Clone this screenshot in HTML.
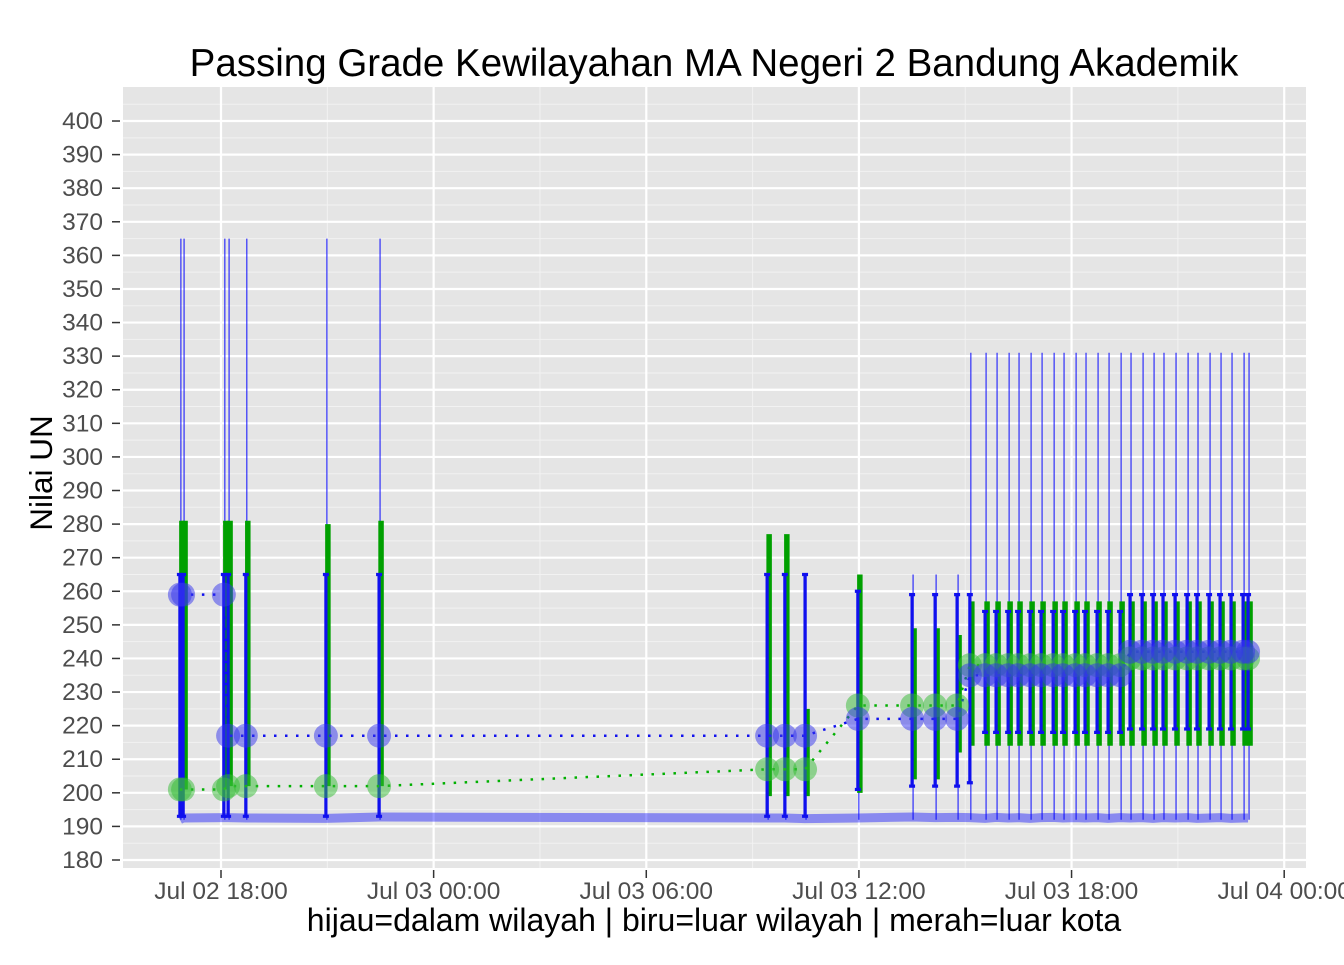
<!DOCTYPE html>
<html><head><meta charset="utf-8"><style>
body{margin:0;background:#fff}
svg text{font-family:"Liberation Sans",sans-serif}
</style></head><body>
<svg id="chart" width="1344" height="960" xmlns="http://www.w3.org/2000/svg">
<rect x="123" y="87" width="1183" height="781" fill="#e5e5e5"/>
<g id="grid"></g><g id="marks"></g><g id="axes"></g>
<text x="714" y="76" font-size="38.5" text-anchor="middle">Passing Grade Kewilayahan MA Negeri 2 Bandung Akademik</text>
<text x="714" y="931" font-size="32" text-anchor="middle">hijau=dalam wilayah | biru=luar wilayah | merah=luar kota</text>
<text transform="translate(52,473) rotate(-90)" font-size="31.5" text-anchor="middle">Nilai UN</text>
</svg>
<script>
// hours since Jul 02 18:00
const times=[-1.16,-1.07,0.08,0.2,0.7,2.96,4.46,15.41,15.91,16.48,17.97,19.5,20.15,20.77,21.13,21.56,21.87,22.21,22.49,22.83,23.14,23.48,23.76,24.10,24.38,24.72,25.03,25.37,25.65,25.99,26.30,26.58,26.92,27.26,27.54,27.88,28.19,28.50,28.84,28.98];
const green=[201,201,201,202,202,202,202,207,207,207,226,226,226,226,238,238,238,238,238,238,238,238,238,238,238,238,238,238,240,240,240,240,240,240,240,240,240,240,240,240];
const blue=[259,259,259,217,217,217,217,217,217,217,222,222,222,222,235,235,235,235,235,235,235,235,235,235,235,235,235,235,242,242,242,242,242,242,242,242,242,242,242,242];
const greenLo=[201,201,201,202,202,202,202,199,199,199,200,204,204,212,214,214,214,214,214,214,214,214,214,214,214,214,214,214,214,214,214,214,214,214,214,214,214,214,214,214];
const greenHi=[281,281,281,281,281,280,281,277,277,225,265,249,249,247,257,257,257,257,257,257,257,257,257,257,257,257,257,257,257,257,257,257,257,257,257,257,257,257,257,257];
const blueLo=[193,193,193,193,193,193,193,193,193,193,201,202,202,202,203,218,218,218,218,218,218,218,218,218,218,218,218,218,219,219,219,219,219,219,219,219,219,219,219,219];
const blueHi=[265,265,265,265,265,265,265,265,265,265,260,259,259,259,259,254,254,254,254,254,254,254,254,254,254,254,254,254,259,259,259,259,259,259,259,259,259,259,259,259];
const thinHi=[365,365,365,365,365,365,365,265,265,265,265,265,265,265,331,331,331,331,331,331,331,331,331,331,331,331,331,331,331,331,331,331,331,331,331,331,331,331,331,331];
const bandVal=[192,192.5,192.6,192.6,192.5,192.4,192.8,192.5,192.5,192.3,192.5,192.8,192.6,192.7,192.6,192.4,192.7,192.5,192.6,192.4,192.6,192.7,192.5,192.6,192.5,192.6,192.4,192.6,192.5,192.6,192.4,192.6,192.5,192.6,192.4,192.5,192.6,192.4,192.5,192.5];
const yTicks=[180,190,200,210,220,230,240,250,260,270,280,290,300,310,320,330,340,350,360,370,380,390,400];
const xTickHours=[0,6,12,18,24,30];
const xTickLabels=["Jul 02 18:00","Jul 03 00:00","Jul 03 06:00","Jul 03 12:00","Jul 03 18:00","Jul 04 00:00"];

const NS="http://www.w3.org/2000/svg";
const X=h=>221+h*35.44;
const Y=v=>860-(v-180)*3.359;
function mk(p,tag,at){const e=document.createElementNS(NS,tag);for(const k in at)e.setAttribute(k,at[k]);p.appendChild(e);return e;}
const grid=document.getElementById('grid'),marks=document.getElementById('marks'),axes=document.getElementById('axes');
for(let v=185;v<=405;v+=10){const y=Y(v);if(y<87)continue;const l=mk(grid,'line',{x1:123,x2:1306,y1:y,y2:y,stroke:'#f2f2f2','stroke-width':1});

}
for(let h=-3;h<=33;h+=6){const x=X(h);if(x<123||x>1306)continue;const l=mk(grid,'line',{x1:x,x2:x,y1:87,y2:868,stroke:'#f2f2f2','stroke-width':1});

}
yTicks.forEach(v=>{const y=Y(v);const l=mk(grid,'line',{x1:123,x2:1306,y1:y,y2:y,stroke:'#fff','stroke-width':2.2});


const t=mk(axes,'line',{x1:112,x2:120,y1:y,y2:y,stroke:'#333','stroke-width':1.5});


const tx=mk(axes,'text',{x:103,y:y+8,'font-size':24.5,fill:'#4d4d4d','text-anchor':'end'});tx.textContent=v;

});
xTickHours.forEach((h,i)=>{const x=X(h);const l=mk(grid,'line',{x1:x,x2:x,y1:87,y2:868,stroke:'#fff','stroke-width':2.2});


const t=mk(axes,'line',{x1:x,x2:x,y1:870,y2:878,stroke:'#333','stroke-width':1.5});


const tx=mk(axes,'text',{x:x,y:899,'font-size':24.5,fill:'#4d4d4d','text-anchor':'middle'});tx.textContent=xTickLabels[i];

});
// band
let bd=times.map((t,i)=>(i?'L':'M')+X(t)+','+Y(bandVal[i])).join(' ');
const band=mk(marks,'path',{d:bd,fill:'none',stroke:'#0000ff','stroke-opacity':0.4,'stroke-width':9,'stroke-linejoin':'round'});


// thin lines
times.forEach((t,i)=>{const x=X(t)+1;const l=mk(marks,'line',{x1:x,x2:x,y1:Y(192),y2:Y(thinHi[i]),stroke:'#0000ff','stroke-width':1.2,'stroke-opacity':0.8});

});
// green bars
times.forEach((t,i)=>{const x=X(t)+2;const l=mk(marks,'line',{x1:x,x2:x,y1:Y(greenLo[i]),y2:Y(greenHi[i]),stroke:'#00a000','stroke-width':5.5});

});
// blue bars
times.forEach((t,i)=>{const x=X(t);const y1=Y(blueLo[i]),y2=Y(blueHi[i]);
const p=mk(marks,'path',{d:`M${x-3},${y1}H${x+3}M${x},${y1}V${y2}M${x-3},${y2}H${x+3}`,stroke:'#1010ee','stroke-width':3.2,fill:'none'});

});
// dotted lines
[[green,'#00b000','green-trend-line'],[blue,'#1010ee','blue-trend-line']].forEach(([arr,c,n])=>{
const d=times.map((t,i)=>(i?'L':'M')+X(t)+','+Y(arr[i])).join(' ');
const p=mk(marks,'path',{d:d,fill:'none',stroke:c,'stroke-width':2.5,'stroke-dasharray':'2.5 8.5'});

});
// points
times.forEach((t,i)=>{const c=mk(marks,'circle',{cx:X(t),cy:Y(green[i]),r:12,fill:'#33bb33','fill-opacity':0.5});

});
times.forEach((t,i)=>{const c=mk(marks,'circle',{cx:X(t),cy:Y(blue[i]),r:12,fill:'#3333ee','fill-opacity':0.5});

});
</script>
</body></html>
